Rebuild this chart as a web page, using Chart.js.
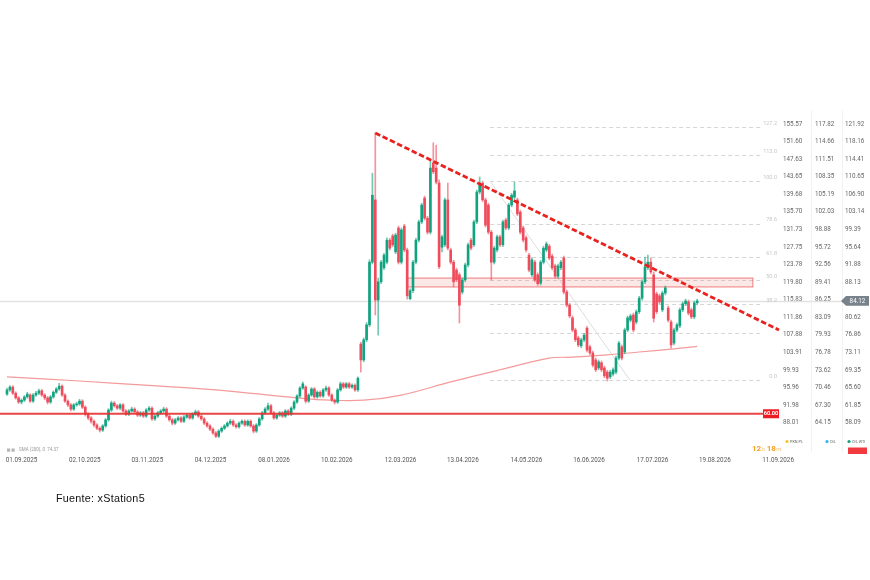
<!DOCTYPE html>
<html><head><meta charset="utf-8">
<script src="https://cdn.jsdelivr.net/npm/chart.js@4.4.1/dist/chart.umd.min.js"></script>
<style>
html,body{margin:0;padding:0;background:#fff;}
#wrap{position:relative;width:870px;height:580px;overflow:hidden;}
canvas{position:absolute;left:0;top:0;}
#src{position:absolute;left:56px;top:492px;font:10.8px "Liberation Sans",Arial,sans-serif;color:#111;letter-spacing:0.25px;white-space:nowrap;}
</style></head><body>
<div id="wrap"><canvas id="c" width="870" height="580"></canvas><div id="src">Fuente: xStation5</div></div>
<script>
// ---- OHLC data (OIL.WTI daily candles) ----
const opens=[64.2,65.1,65.7,64.4,63.4,62.5,62.9,63.6,64.0,62.7,
64.0,64.4,64.9,64.0,63.4,62.5,63.6,64.6,65.3,65.9,
64.0,62.7,61.9,61.0,61.9,62.1,62.7,61.4,59.9,59.1,
58.4,57.6,56.9,56.5,57.4,58.7,60.8,62.3,61.7,61.2,
61.9,60.6,59.9,60.6,61.0,60.4,59.7,60.2,59.5,60.8,
61.2,58.9,59.5,60.2,60.6,61.0,59.5,58.7,58.0,58.7,
59.1,58.4,59.3,59.7,59.1,59.9,60.4,59.5,58.9,58.0,
57.4,56.7,55.9,55.2,56.3,56.9,57.4,58.0,58.4,57.6,
57.2,58.0,58.4,57.6,58.4,57.4,56.3,57.6,58.9,60.2,
61.0,61.7,60.2,59.1,59.7,60.2,59.5,60.6,59.9,61.2,
62.5,63.8,65.5,65.7,62.7,64.0,65.3,63.6,64.6,63.8,
65.1,65.5,64.0,62.9,62.5,65.1,66.4,65.7,66.4,65.7,
66.1,65.1,74.9,71.5,75.8,79.0,92.4,105.7,84.3,88.2,
91.2,92.4,97.1,98.0,94.6,99.7,92.4,100.1,95.0,84.6,
86.3,92.4,97.1,101.0,106.1,101.8,98.8,113.6,112.5,109.3,
95.6,96.1,105.7,95.0,92.4,90.7,89.7,86.0,88.6,91.8,
97.1,96.1,101.0,107.4,109.3,105.7,104.6,98.8,92.4,95.0,
97.8,96.1,101.4,99.7,104.6,106.3,105.7,103.1,99.7,97.6,
93.9,89.7,92.4,89.7,87.9,92.4,95.0,95.8,93.7,91.6,
89.4,91.2,93.3,86.0,83.2,80.5,77.9,76.2,74.5,75.8,
78.3,74.3,73.0,71.5,69.8,70.9,69.8,68.9,67.9,68.5,
68.9,71.9,74.3,73.2,77.9,80.0,81.1,79.6,81.8,84.7,
88.2,91.2,92.4,89.7,85.6,85.2,82.2,85.8,82.6,79.6,
75.1,77.9,78.8,82.2,83.5,83.9,82.2,80.7,83.7];
const highs=[65.5,66.0,66.0,64.7,63.7,63.2,63.9,64.6,64.3,64.3,
64.8,65.3,65.2,64.3,63.7,63.9,64.9,65.6,66.5,66.2,
64.3,63.0,62.2,62.2,62.5,63.1,63.0,61.7,60.2,59.4,
58.7,57.9,57.2,57.7,59.0,61.1,62.7,62.6,62.0,62.2,
62.2,60.9,60.9,61.4,61.3,60.7,60.5,60.5,61.1,61.6,
61.5,59.8,60.5,60.9,61.4,61.3,59.8,59.0,59.0,59.4,
59.4,59.6,60.0,60.0,60.2,60.8,60.7,59.8,59.2,58.3,
57.7,57.0,56.2,56.6,57.2,57.7,58.3,58.8,58.7,57.9,
58.3,58.7,58.7,58.7,58.7,57.7,57.9,59.2,60.5,61.3,
62.3,62.0,60.5,60.0,60.5,60.5,60.9,60.9,61.5,62.8,
64.1,65.8,66.8,66.0,64.3,65.6,65.6,64.9,64.9,65.4,
65.9,65.8,64.3,63.2,65.4,66.8,66.7,66.7,66.7,66.4,
66.4,67.9,75.3,76.2,79.5,92.9,111.4,120.0,89.0,92.8,
94.3,97.6,97.5,98.4,98.6,100.1,99.7,100.5,95.4,86.7,
92.8,97.5,101.4,105.0,106.5,102.2,114.2,117.9,117.4,110.0,
98.2,106.1,109.3,95.4,92.8,91.1,90.1,89.0,92.2,96.5,
97.5,101.4,107.8,110.6,109.7,106.1,105.0,99.2,95.8,98.2,
98.2,101.4,101.8,105.0,107.1,109.5,106.1,103.5,100.1,98.0,
94.3,93.3,92.8,90.1,92.8,95.8,96.7,96.2,94.1,92.0,
92.0,92.8,93.7,86.4,83.6,80.9,78.3,76.6,76.2,77.2,
78.7,74.7,73.4,71.9,71.5,71.3,70.2,69.3,69.3,69.8,
72.3,75.5,74.7,78.3,80.9,81.3,81.5,82.2,85.1,88.6,
93.5,93.9,93.3,90.3,86.0,85.6,86.2,87.3,83.0,80.0,
78.3,79.4,82.6,83.9,84.5,84.3,82.6,84.1,84.5];
const lows=[63.9,64.8,64.1,63.1,62.2,62.1,62.6,63.3,62.4,62.4,
63.7,64.1,63.7,63.0,62.1,62.2,63.3,64.3,65.0,63.7,
62.4,61.5,60.6,60.7,61.6,61.8,61.1,59.5,58.7,58.0,
57.2,56.6,56.1,56.2,57.1,58.4,60.5,61.4,60.9,60.9,
60.3,59.6,59.6,60.3,60.1,59.4,59.4,59.2,59.2,60.5,
58.6,58.6,59.2,59.9,60.3,59.2,58.4,57.6,57.7,58.4,
58.1,58.1,59.0,58.8,58.8,59.6,59.2,58.6,57.7,57.1,
56.4,55.6,54.9,54.9,56.0,56.6,57.1,57.7,57.3,56.9,
56.9,57.7,57.3,57.3,57.1,55.9,56.0,57.3,58.6,59.9,
60.7,59.9,58.8,58.8,59.4,59.2,59.2,59.6,59.6,60.9,
62.2,63.5,65.2,62.3,62.4,63.7,63.3,63.3,63.5,63.5,
64.8,63.7,62.6,62.1,62.2,64.8,65.4,65.4,65.4,65.4,
64.8,64.8,68.9,71.1,75.4,78.6,92.0,81.1,76.8,87.8,
90.8,92.0,95.0,95.7,94.2,92.0,92.0,94.6,84.5,84.4,
85.9,92.0,96.7,100.6,101.4,98.4,98.4,111.3,109.1,91.0,
94.6,95.7,95.0,92.0,87.1,88.2,79.4,85.6,88.2,91.4,
95.0,95.7,100.6,107.0,105.3,99.9,98.4,88.6,92.0,94.6,
95.7,95.7,99.3,99.3,104.2,105.9,102.3,98.4,96.7,94.6,
90.3,89.3,88.2,87.4,87.5,92.0,94.6,92.9,90.8,89.0,
89.0,90.8,85.6,82.8,80.5,77.5,75.4,74.3,74.1,75.4,
73.2,72.6,70.0,69.0,69.4,69.0,67.7,67.0,67.5,68.1,
68.5,71.5,71.5,72.8,77.5,79.6,77.5,79.2,81.4,84.3,
87.8,90.8,89.9,79.6,81.4,83.5,81.8,85.4,79.6,74.0,
74.7,77.5,78.4,81.8,83.1,81.1,80.3,80.3,83.3];
const closes=[65.1,65.7,64.4,63.4,62.5,62.9,63.6,64.2,62.7,64.0,
64.4,64.9,64.0,63.4,62.5,63.6,64.6,65.3,65.9,64.0,
62.7,61.9,61.0,61.9,62.1,62.7,61.4,59.9,59.1,58.4,
57.6,56.9,56.5,57.4,58.7,60.8,62.3,61.7,61.2,61.9,
60.6,59.9,60.6,61.0,60.4,59.7,60.2,59.5,60.8,61.2,
58.9,59.5,60.2,60.6,61.0,59.5,58.7,58.0,58.7,59.1,
58.4,59.3,59.7,59.1,59.9,60.4,59.5,58.9,58.0,57.4,
56.7,55.9,55.2,56.3,56.9,57.4,58.0,58.4,57.6,57.2,
58.0,58.4,57.6,58.4,57.4,56.3,57.6,58.9,60.2,61.0,
61.7,60.2,59.1,59.7,60.2,59.5,60.6,59.9,61.2,62.5,
63.8,65.5,66.4,62.7,64.0,65.3,63.6,64.6,63.8,65.1,
65.5,64.0,62.9,62.5,65.1,66.4,65.7,66.4,65.7,66.1,
65.1,67.6,71.5,75.8,79.0,92.4,106.7,84.3,88.2,92.4,
93.9,97.1,95.4,96.1,98.2,92.4,99.3,95.0,85.2,86.3,
92.4,97.1,101.0,104.6,101.8,98.8,112.5,111.7,109.5,91.4,
97.8,105.7,95.4,92.4,88.2,88.6,83.2,88.6,91.8,96.1,
95.4,101.0,107.4,109.3,105.7,100.3,98.8,92.4,95.4,97.8,
96.1,101.0,99.7,104.6,106.7,107.6,102.7,98.8,97.1,95.0,
90.7,92.9,88.6,87.8,92.4,95.4,96.3,93.3,91.2,89.4,
91.6,92.4,86.0,83.2,80.9,77.9,75.8,74.7,75.8,76.8,
73.6,73.0,70.4,69.4,71.1,69.4,68.1,67.6,68.9,69.4,
71.9,75.1,71.9,77.9,80.5,80.9,77.9,81.8,84.7,88.2,
91.4,92.4,90.3,80.4,81.8,83.9,85.8,86.9,80.0,74.7,
77.9,79.0,82.2,83.5,84.1,81.5,80.7,83.7,84.12];

// SMA(200) (candle index, value)
const smaIdx=[0,25,53,72,100,111,123,136,153,170,187,195,207,218,229,238];
const smaVal=[67.9,67.0,65.9,65.1,63.4,62.9,62.9,64.0,66.8,69.4,71.9,72.1,72.6,73.2,73.8,74.4];

// x-axis date labels and the candle index they sit on
const tickLabels=['01.09.2025','02.10.2025','03.11.2025','04.12.2025','08.01.2026','10.02.2026','12.03.2026','13.04.2026','14.05.2026','16.06.2026','17.07.2026','19.08.2026','11.09.2026'];
const tickIndex=[5,26.8,48.4,70.2,92.1,113.7,135.7,157.2,179.1,200.7,222.6,244.1,265.9];

// right price axes (three instruments)
const axisPKN=[155.57,151.60,147.63,143.65,139.68,135.70,131.73,127.75,123.78,119.80,115.83,111.86,107.88,103.91,99.93,95.96,91.98,88.01];
const axisOIL=[117.82,114.66,111.51,108.35,105.19,102.03,98.88,95.72,92.56,89.41,86.25,83.09,79.93,76.78,73.62,70.46,67.30,64.15];
const axisWTI=[121.92,118.16,114.41,110.65,106.90,103.14,99.39,95.64,91.88,88.13,80.62,76.86,73.11,69.35,65.60,61.85,58.09];

// drawing tools
const trendIdx=[127,266.2];
const trendVal=[120.0,77.9];
const supportLevel=60.00;
const supportEndIdx=260.7;
const lastPrice=84.12;
const zoneLow=87.1, zoneHigh=89.0, zoneStartIdx=138, zoneEndIdx=257.2;
const fibLabels=['0.0','','38.2','50.0','61.8','78.6','100.0','113.0','127.2'];
const fibPrices=[67.2,77.2,83.4,88.5,93.5,100.6,109.7,115.2,121.3];
const fibStartIdx=166.6, fibEndIdx=260.3, fibLowIdx=214.8;

// ---- chart ----
Chart.defaults.font.family='Roboto, "Liberation Sans", sans-serif';
const UP='#11a37f', DOWN='#ef4b5b', UPW='rgba(17,163,127,0.6)', DOWNW='rgba(239,75,91,0.6)';
const isUp=i=>closes[i]>=opens[i];
const bodyData=opens.map((o,i)=>({x:i,y:[o,closes[i]]}));
const wickData=opens.map((o,i)=>({x:i,y:[lows[i],highs[i]]}));
const smaData=smaIdx.map((v,i)=>({x:v,y:smaVal[i]}));
const trendData=trendIdx.map((v,i)=>({x:v,y:trendVal[i]}));

const AREA_TOP=100, AREA_BOTTOM=445, AREA_RIGHT=780, ROW0=124;
function range(first,last){
  const slope=(first-last)/(298.7);
  return {max:first+(ROW0-AREA_TOP)*slope, min:first-(AREA_BOTTOM-ROW0)*slope};
}
const rWTI=range(121.92,58.09), rPKN=range(155.57,88.01), rOIL=range(117.82,64.15);
const X_MIN=-7/2.9, X_MAX=(AREA_RIGHT-7)/2.9;

function line(ctx,x0,y0,x1,y1){ctx.beginPath();ctx.moveTo(x0,y0);ctx.lineTo(x1,y1);ctx.stroke();}

const overlay={
  id:'overlay',
  beforeDatasetsDraw(chart){
    const {ctx,chartArea:a,scales:{x,y}}=chart;
    ctx.save();
    ctx.strokeStyle='#f2f2f2';ctx.lineWidth=1;
    line(ctx,811.5,110,811.5,452);line(ctx,842.5,110,842.5,452);
    const py=Math.round(y.getPixelForValue(lastPrice))+0.5;
    ctx.strokeStyle='#e3e3e3';ctx.lineWidth=1.3;line(ctx,0,py,842,py);
    const fx0=x.getPixelForValue(fibStartIdx), fx1=x.getPixelForValue(fibEndIdx);
    ctx.setLineDash([4,3]);ctx.strokeStyle='#d6d6d6';ctx.lineWidth=1;
    fibPrices.forEach(p=>{const yy=Math.round(y.getPixelForValue(p))+0.5;line(ctx,fx0,yy,fx1,yy);});
    ctx.setLineDash([]);
    ctx.strokeStyle='#dcdcdc';
    line(ctx,fx0,y.getPixelForValue(fibPrices[6]),x.getPixelForValue(fibLowIdx),y.getPixelForValue(fibPrices[0]));
    ctx.fillStyle='#c6c6c6';ctx.font='5.5px Roboto';ctx.textAlign='right';ctx.textBaseline='bottom';
    fibPrices.forEach((p,i)=>{if(fibLabels[i])ctx.fillText(fibLabels[i],a.right-3,y.getPixelForValue(p)-1);});
    const zx0=x.getPixelForValue(zoneStartIdx), zx1=x.getPixelForValue(zoneEndIdx);
    const zy0=y.getPixelForValue(zoneHigh), zy1=y.getPixelForValue(zoneLow);
    ctx.fillStyle='rgba(244,110,110,0.16)';ctx.fillRect(zx0,zy0,zx1-zx0,zy1-zy0);
    ctx.strokeStyle='rgba(232,72,72,0.7)';ctx.lineWidth=1;ctx.strokeRect(zx0,zy0,zx1-zx0,zy1-zy0);
    ctx.restore();
  },
  afterDatasetsDraw(chart){
    const {ctx,chartArea:a,scales:{x,y}}=chart;
    ctx.save();
    const sy=y.getPixelForValue(supportLevel), sx1=x.getPixelForValue(supportEndIdx);
    ctx.strokeStyle='rgba(230,50,50,0.9)';ctx.lineWidth=1.8;line(ctx,0,sy,sx1,sy);
    ctx.fillStyle='#ec1c24';ctx.fillRect(sx1,sy-4.5,16,9);
    ctx.fillStyle='#fff';ctx.font='bold 5.6px Roboto';ctx.textAlign='center';ctx.textBaseline='middle';
    ctx.fillText(supportLevel.toFixed(2),sx1+8,sy+0.3);
    const py=y.getPixelForValue(lastPrice);
    ctx.fillStyle='#78828a';
    ctx.beginPath();ctx.moveTo(841,py);ctx.lineTo(846,py-4.8);ctx.lineTo(869,py-4.8);ctx.lineTo(869,py+4.8);ctx.lineTo(846,py+4.8);ctx.closePath();ctx.fill();
    ctx.fillStyle='#fff';ctx.font='6.3px Roboto';ctx.fillText(lastPrice.toFixed(2),857.5,py+0.3);
    const ly=441.5;
    [['PKN.PL','#f5c518',787],['OIL','#29b6f6',827],['OIL.WTI','#11a37f',849]].forEach(([t,c,lx])=>{
      ctx.fillStyle=c;ctx.beginPath();ctx.arc(lx,ly,1.6,0,Math.PI*2);ctx.fill();
      ctx.fillStyle='#666';ctx.font='3.8px Roboto';ctx.textAlign='left';ctx.fillText(t,lx+3,ly+0.2);
    });
    ctx.fillStyle='#f03a40';ctx.fillRect(848,447.5,19,6.5);
    let tx=752;const ty=451;ctx.textAlign='left';ctx.textBaseline='alphabetic';
    [['12','bold 8px Roboto','#f5a11c'],['h','6px Roboto','#f7c27a'],['18','bold 8px Roboto','#f5a11c'],['m','6px Roboto','#f7c27a']].forEach(([t,f,c],k)=>{
      ctx.font=f;ctx.fillStyle=c;ctx.fillText(t,tx,ty);tx+=ctx.measureText(t).width+(k===1?1.8:0.4);
    });
    ctx.fillStyle='#b5b5b5';ctx.fillRect(7,448.5,3.2,3.2);ctx.fillRect(11.5,448.5,3.2,3.2);
    ctx.fillStyle='#999';ctx.font='4.5px Roboto';ctx.textBaseline='middle';
    ctx.fillText('SMA (200), 0  74.37',19,450.3);
    ctx.restore();
  }
};

const axisBase=(vals,weight,width,pad,r)=>({
  position:'right',weight:weight,min:r.min,max:r.max,bounds:'data',
  grid:{display:false,drawTicks:false},border:{display:false},
  afterBuildTicks:s=>{s.ticks=vals.map(v=>({value:v}));},
  afterFit:s=>{s.width=width;s.paddingTop=0;s.paddingBottom=0;},
  ticks:{padding:pad,font:{size:6.3},color:'#666',callback:v=>Number(v).toFixed(2)}
});

new Chart(document.getElementById('c'),{
  type:'bar',
  data:{datasets:[
    {type:'line',data:trendData,borderColor:'#e8231f',borderWidth:2.8,borderDash:[5.5,2.6],pointRadius:0,order:0,xAxisID:'x',yAxisID:'y'},
    {type:'bar',data:bodyData,backgroundColor:c=>isUp(c.dataIndex)?UP:DOWN,barThickness:2,grouped:false,borderWidth:0,order:1,xAxisID:'x',yAxisID:'y'},
    {type:'bar',data:wickData,backgroundColor:c=>isUp(c.dataIndex)?UPW:DOWNW,barThickness:1,grouped:false,borderWidth:0,order:2,xAxisID:'x',yAxisID:'y'},
    {type:'line',data:smaData,borderColor:'rgba(240,120,120,0.75)',borderWidth:1.2,pointRadius:0,tension:0.35,order:3,xAxisID:'x',yAxisID:'y'}
  ]},
  options:{
    responsive:false,animation:false,events:[],
    layout:{padding:{top:AREA_TOP,bottom:580-AREA_BOTTOM-25,left:0,right:0}},
    plugins:{legend:{display:false},tooltip:{enabled:false}},
    scales:{
      x:{type:'linear',min:X_MIN,max:X_MAX,offset:false,bounds:'data',
        grid:{display:false,drawTicks:false},border:{display:false},
        afterBuildTicks:s=>{s.ticks=tickIndex.map(v=>({value:v}));},
        afterFit:s=>{s.height=25;s.paddingLeft=0;s.paddingRight=0;},
        ticks:{autoSkip:false,maxRotation:0,padding:12,font:{size:6.3},color:'#555',callback:(v,i)=>tickLabels[i]}},
      y1:axisBase(axisPKN,1,31,3,rPKN),
      y2:axisBase(axisOIL,2,31,4,rOIL),
      y:axisBase(axisWTI,3,28,3,rWTI)
    }
  },
  plugins:[overlay]
});
</script>
</body></html>
